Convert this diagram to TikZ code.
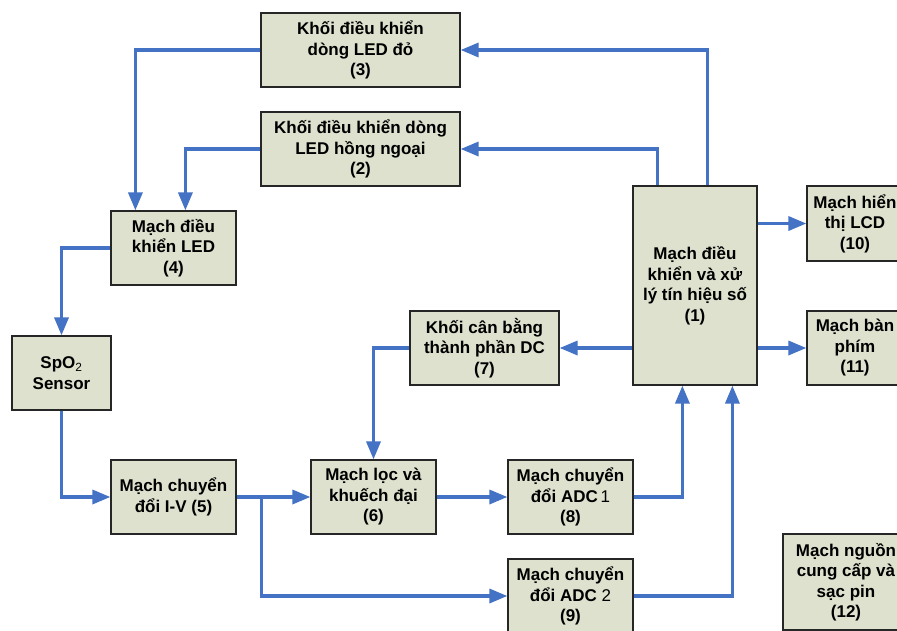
\documentclass[tikz,border=0pt]{standalone}
\usepackage{fontspec}
\setmainfont{Liberation Sans}
\usetikzlibrary{arrows.meta}
\definecolor{boxfill}{RGB}{221,225,205}
\definecolor{arr}{RGB}{68,114,196}
\begin{document}
\begin{tikzpicture}[x=1pt,y=-1pt,
  blk/.style={draw=black!85, line width=1.2pt, fill=boxfill,
    font=\fontsize{17}{20.5}\selectfont\bfseries, align=center, inner sep=0pt},
  conn/.style={draw=arr, line width=3.3pt, -{Triangle[length=18pt,width=14pt]}}]
\useasboundingbox (0,0) rectangle (897,630);
\clip (0,0) rectangle (897,630);
\node[blk, minimum width=199pt, minimum height=74pt] (b3) at (360.5,50) {Khối điều khiển\\dòng LED đỏ\\(3)};
\node[blk, minimum width=199pt, minimum height=74pt] (b2) at (360.5,149) {Khối điều khiển dòng\\LED hồng ngoại\\(2)};
\node[blk, minimum width=125pt, minimum height=74pt] (b4) at (173.5,248) {Mạch điều\\khiển LED\\(4)};
\node[blk, minimum width=99pt, minimum height=74pt] (sens) at (61.5,373) {SpO\textsubscript{\mdseries 2}\\Sensor};
\node[blk, minimum width=125pt, minimum height=74pt] (b5) at (173.5,497) {Mạch chuyển\\đổi I-V (5)};
\node[blk, minimum width=125pt, minimum height=74pt] (b6) at (373.5,497) {Mạch lọc và\\khuếch đại\\(6)};
\node[blk, minimum width=149pt, minimum height=74pt] (b7) at (484.5,348) {Khối cân bằng\\thành phần DC\\(7)};
\node[blk, minimum width=125pt, minimum height=74pt] (b8) at (570.5,497) {Mạch chuyển\\đổi ADC\,{\mdseries 1}\\(8)};
\node[blk, minimum width=125pt, minimum height=74pt] (b9) at (570.5,596) {Mạch chuyển\\đổi ADC {\mdseries 2}\\(9)};
\node[blk, minimum width=124pt, minimum height=199pt] (b1) at (695,285.5) {Mạch điều\\khiển và xử\\lý tín hiệu số\\(1)};
\node[blk, minimum width=96pt, minimum height=75pt] (b10) at (855,223.5) {Mạch hiển\\thị LCD\\(10)};
\node[blk, minimum width=96pt, minimum height=74pt] (b11) at (855,348) {Mạch bàn\\phím\\(11)};
\node[blk, minimum width=126pt, minimum height=96pt] (b12) at (846,582) {Mạch nguồn\\cung cấp và\\sạc pin\\(12)};
\draw[conn] (b3.west) -| ([xshift=25pt]b4.north west);
\draw[conn] (b2.west) -| ([xshift=75pt]b4.north west);
\draw[conn] (b4.west) -| (sens.north);
\draw[conn] (sens.south) |- (b5.west);
\draw[conn] (b5.east) -- (b6.west);
\draw[conn] ([xshift=25pt]b5.east) |- (b9.west);
\draw[conn] (b6.east) -- (b8.west);
\draw[conn] (b8.east) -| ([xshift=50pt]b1.south west);
\draw[conn] (b9.east) -| ([xshift=100pt]b1.south west);
\draw[conn] (b1.west |- b7.east) -- (b7.east);
\draw[conn] (b7.west) -| (b6.north);
\draw[conn] ([xshift=25pt]b1.north west) |- (b2.east);
\draw[conn] ([xshift=75pt]b1.north west) |- (b3.east);
\draw[conn] (b1.east |- b10.west) -- (b10.west);
\draw[conn] (b1.east |- b11.west) -- (b11.west);
\end{tikzpicture}
\end{document}
